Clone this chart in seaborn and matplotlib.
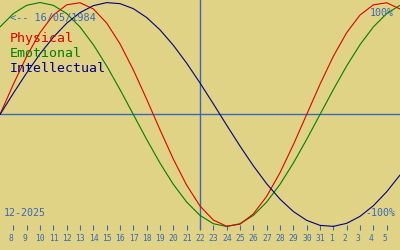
import matplotlib
matplotlib.use("Agg")
import matplotlib.pyplot as plt
import matplotlib.transforms as mtransforms
import seaborn as sns
import pandas as pd

# Day offsets from 7 Dec 2025 (x=0) to 6 Jan 2026
days = list(range(31))
physical = [0.0, 0.2698, 0.5196, 0.7308, 0.8879, 0.9791, 0.9977, 0.9423, 0.8170, 0.6311,
            0.3984, 0.1362, -0.1362, -0.3984, -0.6311, -0.8170, -0.9423, -0.9977, -0.9791, -0.8879,
            -0.7308, -0.5196, -0.2698, 0.0, 0.2698, 0.5196, 0.7308, 0.8879, 0.9791, 0.9977, 0.9423]
emotional = [0.7818, 0.9010, 0.9749, 1.0, 0.9749, 0.9010, 0.7818, 0.6235, 0.4339, 0.2225,
             0.0, -0.2225, -0.4339, -0.6235, -0.7818, -0.9010, -0.9749, -1.0, -0.9749, -0.9010,
             -0.7818, -0.6235, -0.4339, -0.2225, 0.0, 0.2225, 0.4339, 0.6235, 0.7818, 0.9010, 0.9749]
intellectual = [0.0, 0.1893, 0.3717, 0.5406, 0.6901, 0.8146, 0.9096, 0.9718, 0.9989, 0.9898,
                0.9450, 0.8660, 0.7557, 0.6182, 0.4582, 0.2817, 0.0951, -0.0951, -0.2817, -0.4582,
                -0.6182, -0.7557, -0.8660, -0.9450, -0.9898, -0.9989, -0.9718, -0.9096, -0.8146, -0.6901, -0.5406]
tick_days = list(range(1, 30))
tick_labels = ["8", "9", "10", "11", "12", "13", "14", "15", "16", "17", "18", "19", "20", "21", "22",
               "23", "24", "25", "26", "27", "28", "29", "30", "31", "1", "2", "3", "4", "5"]
today = 15
series_names = ["Emotional", "Physical", "Intellectual"]

BG = "#e0d385"
BLUE = "#3868b8"
colors = {"Physical": "#e00000", "Emotional": "#008000", "Intellectual": "#000088"}

df = pd.concat([
    pd.DataFrame({"day": days, "value": physical, "series": "Physical"}),
    pd.DataFrame({"day": days, "value": emotional, "series": "Emotional"}),
    pd.DataFrame({"day": days, "value": intellectual, "series": "Intellectual"}),
])

sns.set_style("white")
plt.rcParams["font.family"] = ["DejaVu Sans Mono", "DejaVu Sans"]

fig = plt.figure(figsize=(4, 2.5), dpi=100, facecolor=BG)
ax = fig.add_axes([0, 0.08, 1, 0.92])
ax.set_facecolor(BG)

ax.axhline(0, color=BLUE, lw=1.0, zorder=1)
ax.axvline(today, color=BLUE, lw=1.0, zorder=1)

sns.lineplot(data=df, x="day", y="value", hue="series", hue_order=series_names,
             palette=colors, legend=False, linewidth=0.8, ax=ax, zorder=3)

ax.set_xlim(0, 30)
ax.set_ylim(-1.03125, 1.0223)
ax.set_xlabel("")
ax.set_ylabel("")
ax.set_yticks([])
for s in ax.spines.values():
    s.set_visible(False)

ax.set_xticks(tick_days)
ax.set_xticklabels(tick_labels)
ax.tick_params(axis="x", direction="in", length=3.6, width=0.8, color=BLUE,
               labelcolor=BLUE, labelsize=5.8, pad=3.2, bottom=True)
offset = mtransforms.ScaledTranslation(-4.5 / 100, 0, fig.dpi_scale_trans)
for lab in ax.get_xticklabels():
    lab.set_horizontalalignment("left")
    lab.set_transform(lab.get_transform() + offset)

W, H = 400.0, 250.0
def px(x, y):
    return x / W, 1 - y / H

fig.text(*px(10, 21), "<-- 16/05/1984", color=BLUE, fontsize=7.4, va="baseline", ha="left")
fig.text(*px(10, 42), "Physical", color=colors["Physical"], fontsize=9.5, va="baseline", ha="left")
fig.text(*px(10, 57), "Emotional", color=colors["Emotional"], fontsize=9.5, va="baseline", ha="left")
fig.text(*px(10, 72), "Intellectual", color=colors["Intellectual"], fontsize=9.5, va="baseline", ha="left")
fig.text(*px(4, 216), "12-2025", color=BLUE, fontsize=7.2, va="baseline", ha="left")
fig.text(*px(394, 16), "100%", color=BLUE, fontsize=7.2, va="baseline", ha="right")
fig.text(*px(395, 216), "-100%", color=BLUE, fontsize=7.2, va="baseline", ha="right")

fig.savefig("out.png", dpi=100, facecolor=BG)
